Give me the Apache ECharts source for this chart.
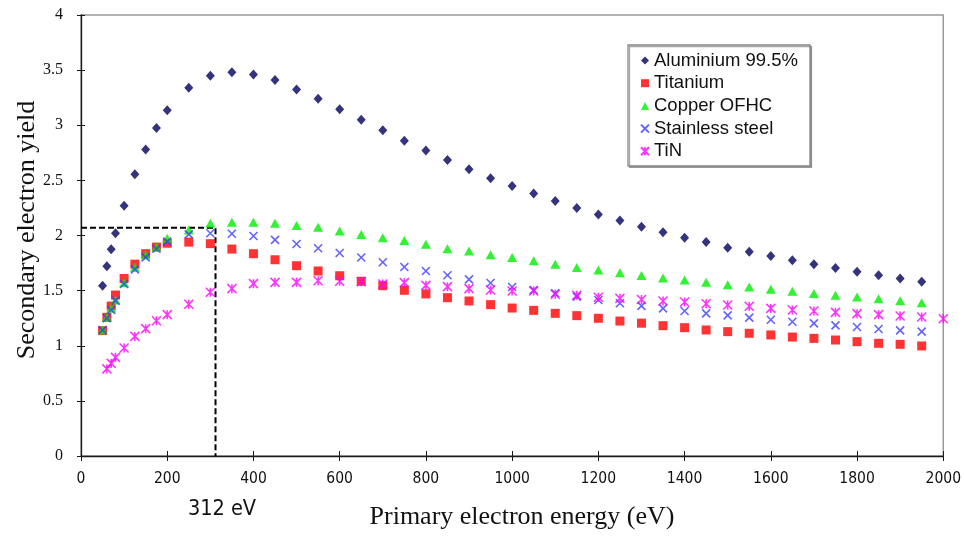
<!DOCTYPE html>
<html>
<head>
<meta charset="utf-8">
<script src="https://cdn.jsdelivr.net/npm/echarts@6/dist/echarts.min.js"></script>
<style>
  html, body { margin: 0; padding: 0; background: #fff; }
  #chart { width: 964px; height: 537px; }
</style>
</head>
<body>
<div id="chart"></div>
<script>
// Primary electron energies (eV) shared by the four metal samples
const energies = [50, 60, 70, 80, 100, 125, 150, 175, 200, 250, 300, 350, 400, 450, 500, 550, 600,
  650, 700, 750, 800, 850, 900, 950, 1000, 1050, 1100, 1150, 1200, 1250, 1300,
  1350, 1400, 1450, 1500, 1550, 1600, 1650, 1700, 1750, 1800, 1850, 1900, 1950];

// Energies measured for the TiN coating
const energiesTiN = [60, 70, 80, 100, 125, 150, 175, 200, 250, 300, 350, 400, 450, 500, 550, 600,
  650, 700, 750, 800, 850, 900, 950, 1000, 1050, 1100, 1150, 1200, 1250, 1300,
  1350, 1400, 1450, 1500, 1550, 1600, 1650, 1700, 1750, 1800, 1850, 1900, 1950, 2000];

// Secondary electron yield per material
const aluminium = [1.545, 1.72, 1.875, 2.02, 2.27, 2.555, 2.78, 2.975, 3.135, 3.34, 3.45, 3.48, 3.46, 3.41, 3.325, 3.24, 3.145,
  3.05, 2.955, 2.86, 2.77, 2.685, 2.60, 2.52, 2.45, 2.38, 2.313, 2.25, 2.19, 2.135, 2.08,
  2.03, 1.98, 1.94, 1.89, 1.853, 1.814, 1.775, 1.74, 1.705, 1.672, 1.64, 1.61, 1.58];

const titanium = [1.137, 1.258, 1.36, 1.46, 1.61, 1.74, 1.835, 1.895, 1.93, 1.94, 1.926, 1.877, 1.835, 1.78, 1.726, 1.678, 1.635,
  1.585, 1.545, 1.503, 1.47, 1.436, 1.406, 1.373, 1.342, 1.321, 1.294, 1.273, 1.249, 1.224, 1.205,
  1.182, 1.164, 1.143, 1.128, 1.113, 1.098, 1.079, 1.067, 1.052, 1.037, 1.022, 1.013, 0.998];

const copper = [1.143, 1.258, 1.34, 1.415, 1.572, 1.711, 1.823, 1.898, 1.974, 2.05, 2.11, 2.12, 2.12, 2.11, 2.09, 2.075, 2.04,
  2.01, 1.98, 1.955, 1.92, 1.88, 1.86, 1.825, 1.80, 1.77, 1.74, 1.71, 1.687, 1.663, 1.638,
  1.615, 1.596, 1.575, 1.554, 1.533, 1.512, 1.494, 1.475, 1.457, 1.442, 1.427, 1.409, 1.39];

const stainless = [1.143, 1.249, 1.324, 1.409, 1.56, 1.693, 1.802, 1.88, 1.944, 2.01, 2.02, 2.016, 1.995, 1.96, 1.923, 1.884, 1.841,
  1.80, 1.757, 1.714, 1.678, 1.639, 1.602, 1.569, 1.533, 1.506, 1.476, 1.445, 1.415, 1.385, 1.362,
  1.339, 1.315, 1.294, 1.276, 1.255, 1.236, 1.218, 1.203, 1.185, 1.17, 1.152, 1.14, 1.128];

const tin = [0.79, 0.84, 0.895, 0.98, 1.085, 1.155, 1.227, 1.282, 1.376, 1.485, 1.518, 1.563, 1.575, 1.575, 1.59, 1.585,
  1.581, 1.56, 1.572, 1.548, 1.536, 1.518, 1.506, 1.497, 1.497, 1.467, 1.458, 1.44, 1.43, 1.42,
  1.406, 1.397, 1.381, 1.37, 1.358, 1.339, 1.324, 1.315, 1.303, 1.291, 1.282, 1.27, 1.261, 1.245];

const seriesNames = ['Aluminium 99.5%', 'Titanium', 'Copper OFHC', 'Stainless steel', 'TiN'];

// Guide to the 312 eV reading of the peak yield
const guideEnergy = 312;
const guideYield = 2.07;

// Axis ranges and tick steps
const xRange = [0, 2000], xStep = 200;
const yRange = [0, 4], yStep = 0.5;

const pair = (xs, ys) => xs.map((x, i) => [x, ys[i]]);

const crossSymbol = 'path://M0,0L10,10M10,0L0,10';
const starSymbol = 'path://M0,0L10,10M10,0L0,10M5,0L5,10';

const tickFont = "'Liberation Sans Narrow', 'DejaVu Sans Condensed', 'Liberation Sans', sans-serif";
const serifFont = "'Liberation Serif', 'DejaVu Serif', serif";
const sansFont = "'Liberation Sans', Arial, sans-serif";

const chart = echarts.init(document.getElementById('chart'), null, { renderer: 'canvas' });

const baseX = {
  type: 'value', min: xRange[0], max: xRange[1], interval: xStep,
  splitLine: { show: false }
};
const baseY = {
  type: 'value', min: yRange[0], max: yRange[1], interval: yStep,
  splitLine: { show: false }
};

chart.setOption({
  backgroundColor: '#fff',
  animation: false,
  grid: {
    left: 81, right: 18, top: 15, bottom: 81,
    show: true, borderColor: '#9a9a9a', borderWidth: 1.5, backgroundColor: 'transparent'
  },
  xAxis: [
    Object.assign({}, baseX, {
      axisLine: { show: true, lineStyle: { color: '#1a1a1a', width: 1.3 } },
      axisTick: { show: true, length: 5, lineStyle: { color: '#1a1a1a', width: 1 } },
      axisLabel: {
        margin: 15, color: '#111', fontFamily: tickFont, fontSize: 15.5,
        formatter: v => String(v)
      }
    }),
    Object.assign({}, baseX, {
      position: 'bottom',
      axisLine: { show: false },
      axisTick: { show: true, inside: true, length: 5, lineStyle: { color: '#1a1a1a', width: 1 } },
      axisLabel: { show: false }
    })
  ],
  yAxis: [
    Object.assign({}, baseY, {
      axisLine: { show: true, lineStyle: { color: '#1a1a1a', width: 1.3 } },
      axisTick: { show: true, length: 4, lineStyle: { color: '#1a1a1a', width: 1 } },
      axisLabel: { margin: 18, color: '#111', fontFamily: serifFont, fontSize: 16 }
    }),
    Object.assign({}, baseY, {
      position: 'left',
      axisLine: { show: false },
      axisTick: { show: true, inside: true, length: 4, lineStyle: { color: '#1a1a1a', width: 1 } },
      axisLabel: { show: false }
    })
  ],
  legend: {
    data: seriesNames,
    orient: 'vertical',
    left: 628, top: 45,
    padding: [6, 12, 5, 12],
    itemWidth: 8, itemHeight: 8, itemGap: 3.7, itemTextGap: 7,
    backgroundColor: '#fff',
    borderColor: '#888', borderWidth: 1.3,
    shadowColor: 'rgba(0,0,0,0.35)', shadowOffsetX: 1.5, shadowOffsetY: 1.5, shadowBlur: 0,
    textStyle: { fontFamily: sansFont, fontSize: 18.5, color: '#111', lineHeight: 18 },
    selectedMode: false
  },
  graphic: [
    {
      type: 'text', x: 27, y: 230, rotation: Math.PI / 2,
      style: { text: 'Secondary electron yield', font: "26px " + serifFont, fill: '#111', align: 'center', verticalAlign: 'middle' }
    },
    {
      type: 'text', x: 522, y: 517,
      style: { text: 'Primary electron energy (eV)', font: "26px " + serifFont, fill: '#111', align: 'center', verticalAlign: 'middle' }
    },
    {
      type: 'text', x: 222, y: 509,
      style: { text: guideEnergy + ' eV', font: "21.5px " + tickFont, fill: '#111', align: 'center', verticalAlign: 'middle' }
    }
  ],
  series: [
    {
      name: 'guide', type: 'line', silent: true, symbol: 'none', z: 1,
      data: [[xRange[0], guideYield], [guideEnergy, guideYield], [guideEnergy, yRange[0]]],
      lineStyle: { color: '#000', width: 2, type: [6, 3] }
    },
    {
      name: seriesNames[0], type: 'scatter', symbol: 'diamond', symbolSize: [9, 10],
      itemStyle: { color: '#00005e' },
      data: pair(energies, aluminium)
    },
    {
      name: seriesNames[1], type: 'scatter', symbol: 'rect', symbolSize: 9,
      itemStyle: { color: '#ff0000' },
      data: pair(energies, titanium)
    },
    {
      name: seriesNames[2], type: 'scatter', symbol: 'triangle', symbolSize: [10, 9],
      itemStyle: { color: '#00ee00' },
      data: pair(energies, copper)
    },
    {
      name: seriesNames[3], type: 'scatter', symbol: crossSymbol, symbolSize: 8,
      itemStyle: { color: 'rgba(0,0,0,0)', borderColor: '#3c3cff', borderWidth: 1.6 },
      data: pair(energies, stainless)
    },
    {
      name: seriesNames[4], type: 'scatter', symbol: starSymbol, symbolSize: 9,
      itemStyle: { color: 'rgba(0,0,0,0)', borderColor: '#ff00ff', borderWidth: 1.6 },
      data: pair(energiesTiN, tin)
    }
  ]
});
</script>
</body>
</html>
